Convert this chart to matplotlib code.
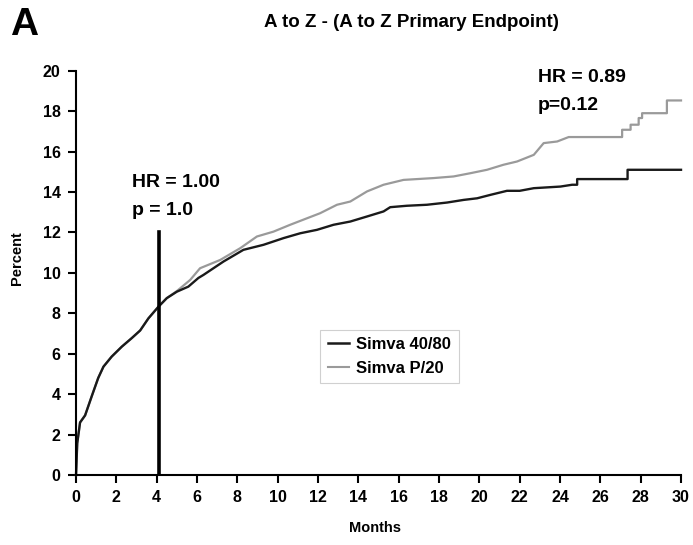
import matplotlib
matplotlib.use("Agg")
import matplotlib.pyplot as plt
from matplotlib import font_manager as fm
from matplotlib.lines import Line2D

# pick a narrow font for the headline / axis titles if there is one
names = {f.name for f in fm.fontManager.ttflist}
NARROW = "Liberation Sans Narrow" if "Liberation Sans Narrow" in names else "Liberation Sans"
plt.rcParams["font.family"] = ["Liberation Sans", "DejaVu Sans"]

# cumulative event curves (months, percent)
simva_4080_months = [0, 0.06, 0.2, 0.45, 0.78, 1.1, 1.36, 1.77, 2.27, 2.76, 3.18, 3.59,
                     4.09, 4.5, 5.0, 5.57, 6.07, 6.32, 7.31, 8.3, 9.3, 10.29, 11.12,
                     11.95, 12.77, 13.6, 14.43, 15.25, 15.58, 16.4, 17.4, 18.4, 19.22,
                     19.89, 20.55, 21.37, 22.0, 22.7, 24.02, 24.6, 24.85, 24.85,
                     27.35, 27.35, 30.0]
simva_4080_pct = [0, 1.57, 2.6, 2.95, 3.9, 4.8, 5.36, 5.86, 6.35, 6.77, 7.15, 7.75,
                  8.33, 8.75, 9.07, 9.32, 9.75, 9.9, 10.56, 11.14, 11.39, 11.72, 11.96,
                  12.13, 12.38, 12.54, 12.79, 13.04, 13.25, 13.32, 13.37, 13.48, 13.61,
                  13.69, 13.86, 14.06, 14.06, 14.19, 14.27, 14.36, 14.36, 14.64,
                  14.64, 15.1, 15.1]

simva_p20_months = [0, 0.06, 0.2, 0.45, 0.78, 1.1, 1.36, 1.77, 2.27, 2.76, 3.18, 3.59,
                    4.09, 4.5, 5.0, 5.66, 6.15, 7.15, 8.14, 8.97, 9.79, 10.62, 11.45,
                    12.1, 12.94, 13.6, 14.43, 15.25, 16.24, 17.73, 18.72, 19.55, 20.38,
                    21.2, 21.87, 22.7, 23.19, 23.86, 24.43, 27.08, 27.08, 27.5, 27.5,
                    27.9, 27.9, 28.07, 28.07, 29.3, 29.3, 30.0]
simva_p20_pct = [0, 1.57, 2.6, 2.95, 3.9, 4.8, 5.36, 5.86, 6.35, 6.77, 7.15, 7.75,
                 8.33, 8.75, 9.1, 9.65, 10.23, 10.64, 11.22, 11.8, 12.04, 12.38, 12.7,
                 12.95, 13.37, 13.53, 14.03, 14.36, 14.6, 14.69, 14.77, 14.93, 15.1,
                 15.35, 15.51, 15.84, 16.42, 16.5, 16.72, 16.72, 17.08, 17.08, 17.33,
                 17.33, 17.66, 17.66, 17.9, 17.9, 18.53, 18.53]

# marker line at 4 months and the two annotations
cut_month = 4.1
cut_top = 12.0
early_txt = ["HR = 1.00", "p = 1.0"]
late_txt = ["HR = 0.89", "p=0.12"]

x_ticks = list(range(0, 31, 2))
y_ticks = list(range(0, 21, 2))

fig = plt.figure(figsize=(6.93, 5.45), dpi=100)
ax = fig.add_axes([0.1097, 0.1284, 0.873, 0.7418])

ax.plot(simva_p20_months, simva_p20_pct, color="#9a9a9a", lw=1.6, clip_on=False)
ax.plot(simva_4080_months, simva_4080_pct, color="#1a1a1a", lw=1.7, clip_on=False)
ax.plot([cut_month, cut_month], [0, cut_top], color="black", lw=2.6)

ax.text(2.76, 14.26, early_txt[0], fontsize=14, fontweight="bold")
ax.text(2.76, 12.87, early_txt[1], fontsize=14, fontweight="bold")
ax.text(22.9, 19.44, late_txt[0], fontsize=14, fontweight="bold")
ax.text(22.9, 18.07, late_txt[1], fontsize=14, fontweight="bold")

ax.set_xlim(0, 30)
ax.set_ylim(0, 20)
ax.set_xticks(x_ticks)
ax.set_yticks(y_ticks)
for s in ["top", "right"]:
    ax.spines[s].set_visible(False)
for s in ["left", "bottom"]:
    ax.spines[s].set_linewidth(1.5)
ax.tick_params(direction="out", length=6, width=1.5, pad=5, labelsize=11.5)
for lab in ax.get_xticklabels() + ax.get_yticklabels():
    lab.set_fontweight("bold")

handles = [Line2D([], [], color="#1a1a1a", lw=1.8),
           Line2D([], [], color="#9a9a9a", lw=1.5)]
leg = ax.legend(handles, ["Simva 40/80", "Simva P/20"], loc="upper left",
                bbox_to_anchor=(0.39, 0.38), fancybox=False, framealpha=1,
                handlelength=1.3, handletextpad=0.4, borderpad=0.45,
                prop={"size": 12, "weight": "bold"})
leg.get_frame().set_edgecolor("#d0d0d0")
leg.get_frame().set_linewidth(0.8)

fig.text(0.0144, 0.936, "A", fontsize=28, fontweight="bold", family=NARROW)
fig.text(0.593, 0.950, "A to Z - (A to Z Primary Endpoint)", ha="center",
         fontsize=13.5, fontweight="bold", family=NARROW)
fig.text(0.025, 0.527, "Percent", rotation=90, ha="center", va="center",
         fontsize=10.5, fontweight="bold", family=NARROW)
fig.text(0.541, 0.031, "Months", ha="center", va="center",
         fontsize=10.5, fontweight="bold", family=NARROW)

fig.savefig("out.png", dpi=100)
